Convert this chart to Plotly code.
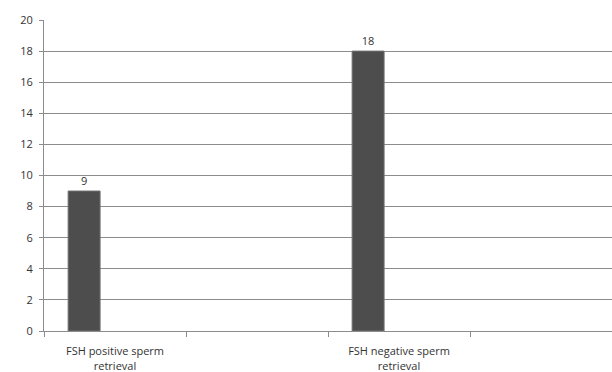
import plotly.graph_objects as go

categories = ["FSH positive sperm<br>retrieval", " ", "FSH negative sperm<br>retrieval", "  "]
values = [9, None, 18, None]
labels = ["9", "", "18", ""]
y_ticks = [0, 2, 4, 6, 8, 10, 12, 14, 16, 18, 20]

fig = go.Figure()
fig.add_trace(go.Bar(
    x=categories, y=values,
    text=labels, textposition="outside",
    textfont=dict(family="Open Sans, sans-serif", size=11, color="#333333"),
    marker=dict(color="#4d4d4d", line=dict(color="#707070", width=1)),
    width=0.225, offset=-0.33,
    cliponaxis=False,
))
fig.update_layout(
    width=612, height=372,
    margin=dict(l=44, r=0, t=20, b=41, autoexpand=False),
    paper_bgcolor="white", plot_bgcolor="white",
    showlegend=False,
    font=dict(family="Open Sans, sans-serif", size=11, color="#333333"),
)
fig.update_xaxes(
    type="category", tickson="boundaries", ticks="outside", ticklen=5,
    tickcolor="#8c8c8c", showline=True, linecolor="#8c8c8c", linewidth=1,
    showgrid=False, tickfont=dict(size=11, color="#333333"),
    range=[-0.5, 3.5], automargin=False, ticklabelstandoff=10,
)
fig.update_yaxes(
    range=[0, 20], tickvals=y_ticks, ticks="outside", ticklen=4,
    tickcolor="#8c8c8c", showline=True, linecolor="#8c8c8c", linewidth=1,
    showgrid=True, gridcolor="#8c8c8c", gridwidth=1, zeroline=False,
    tickfont=dict(size=11, color="#333333"), automargin=False,
    ticklabelstandoff=4,
)
fig.write_html(
    "out.html",
    config={"displayModeBar": False},
    post_script="document.body.style.margin='0';document.body.style.overflow='hidden';",
)
